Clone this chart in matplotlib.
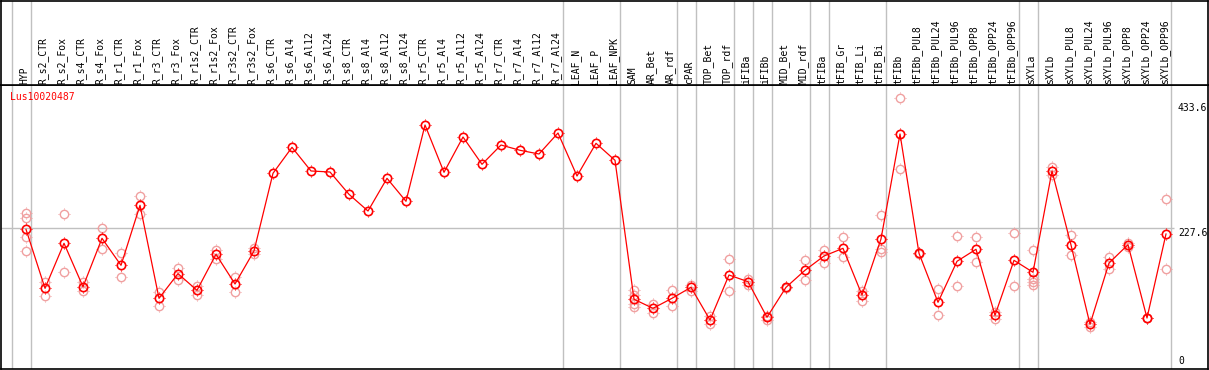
import numpy as np
import matplotlib.pyplot as plt
from matplotlib.path import Path

labels = ["HYP", "R_s2_CTR", "R_s2_Fox", "R_s4_CTR", "R_s4_Fox", "R_r1_CTR", "R_r1_Fox",
          "R_r3_CTR", "R_r3_Fox", "R_r1s2_CTR", "R_r1s2_Fox", "R_r3s2_CTR", "R_r3s2_Fox",
          "R_s6_CTR", "R_s6_Al4", "R_s6_Al12", "R_s6_Al24", "R_s8_CTR", "R_s8_Al4",
          "R_s8_Al12", "R_s8_Al24", "R_r5_CTR", "R_r5_Al4", "R_r5_Al12", "R_r5_Al24",
          "R_r7_CTR", "R_r7_Al4", "R_r7_Al12", "R_r7_Al24", "LEAF_N", "LEAF_P", "LEAF_NPK",
          "SAM", "AR_Bet", "AR_rdf", "cPAR", "TOP_Bet", "TOP_rdf", "iFIBa", "iFIBb",
          "MID_Bet", "MID_rdf", "tFIBa", "tFIB_Gr", "tFIB_Li", "tFIB_Bi", "tFIBb",
          "tFIBb_PUL8", "tFIBb_PUL24", "tFIBb_PUL96", "tFIBb_OPP8", "tFIBb_OPP24",
          "tFIBb_OPP96", "sXYLa", "sXYLb", "sXYLb_PUL8", "sXYLb_PUL24", "sXYLb_PUL96",
          "sXYLb_OPP8", "sXYLb_OPP24", "sXYLb_OPP96"]

means = [225.3, 128.1, 202.3, 130.7, 210.5, 166.0, 264.9, 111.6, 152.2, 124.8, 184.1, 135.2, 189.6,
         317.7, 360.5, 321.5, 319.8, 283.0, 255.5, 309.4, 271.5, 397.3, 319.3, 377.5, 332.5,
         364.3, 355.6, 349.5, 384.1, 313.2, 367.1, 339.1,
         110.0, 95.1, 111.6, 129.7, 75.8, 150.0, 139.0, 80.3, 129.7, 157.8, 181.3, 194.0,
         117.0, 209.4, 382.5, 185.8, 105.0, 172.6, 192.4, 83.6, 174.2, 154.5, 321.5, 199.5,
         68.7, 169.8, 200.0, 79.1, 217.6]

reps = [[251.7, 243.5, 213.2, 189.6], [139.0, 115.9], [250.1, 154.5], [139.0, 124.1],
        [227.0, 192.4], [185.8, 146.2], [280.2, 250.1], [121.5, 99.4], [161.1, 141.8],
        [131.9, 117.0], [191.2, 176.4], [146.2, 122.5], [195.0, 184.6],
        [], [], [], [], [], [], [], [], [], [], [], [], [], [], [], [], [], [], [],
        [125.3, 117.0, 102.2, 97.8], [102.2, 87.9], [124.8, 98.4], [133.5, 124.1],
        [82.4, 68.7], [175.9, 123.6], [142.9, 133.5], [82.4, 75.8], [130.5, 129.0],
        [174.2, 141.3], [191.2, 170.3], [212.2, 179.2], [123.6, 107.6],
        [248.9, 192.4, 187.9], [441.3, 324.3], [186.5, 185.0], [126.4, 83.6],
        [214.3, 131.4], [212.2, 171.9], [89.5, 77.5], [218.8, 131.4],
        [190.7, 142.9, 139.0, 133.5], [328.5, 314.9], [216.0, 183.0], [73.0, 64.8],
        [180.2, 159.4], [202.3, 195.7], [79.5, 78.7], [275.3, 159.4]]

group_ends = [0, 28, 31, 34, 35, 37, 38, 39, 41, 42, 45, 52, 53, 60]
tick_vals = [433.6, 227.6, 0]
tick_text = ["433.6", "227.6", "0"]
gene = "Lus10020487"

W, H = 1209, 370
px_per_col = 19.0
x0 = 26.0
px_per_unit = 0.6066
y_zero = 366.0

def xi(px):
    return (px - x0) / px_per_col

def yv(py):
    return (y_zero - py) / px_per_unit

mono = "DejaVu Sans Mono"
red = "#ff0000"
pink = "#f0a0a0"
grey = "#c0c0c0"

# four short ticks around the circle
M, L = Path.MOVETO, Path.LINETO
tick_mark = Path([[0, 1], [0, 1.3], [0, -1], [0, -1.3], [1, 0], [1.3, 0], [-1, 0], [-1.3, 0]],
                 [M, L, M, L, M, L, M, L])
ms = 6

def circles(ax, x, y, col, mew, **kw):
    ax.plot(x, y, marker="o", ms=ms, mfc="none", mec=col, mew=mew, **kw)
    ax.plot(x, y, linestyle="none", marker=tick_mark, ms=ms * 1.3 + mew, mfc="none",
            mec=col, mew=0.7, zorder=kw.get("zorder", 2))

fig = plt.figure(figsize=(W / 100, H / 100), dpi=100)

ax = fig.add_axes([1 / W, 1 / H, 1207 / W, 284 / H])
ax.set_xlim(xi(1), xi(1208))
ax.set_ylim(yv(369), yv(85))
ax.set_xticks([])
ax.set_yticks([])
for s in ax.spines.values():
    s.set_color("black")
    s.set_linewidth(1.2)

hx = fig.add_axes([1 / W, 285 / H, 1207 / W, 84.5 / H])
hx.set_xlim(xi(1), xi(1208))
hx.set_ylim(85, 0)
hx.set_xticks([])
hx.set_yticks([])
for s in hx.spines.values():
    s.set_color("black")
    s.set_linewidth(1.2)

seps = [-0.76] + [g + 0.24 for g in group_ends]
for s in seps:
    ax.axvline(s, color=grey, lw=1, zorder=0)
    hx.axvline(s, color=grey, lw=1, zorder=0)
ax.hlines(227.6, xi(1), xi(1174), color=grey, lw=1, zorder=0)

idx = np.arange(len(labels))
for i, lab in enumerate(labels):
    hx.text(i - 0.1, 83.5, lab, rotation=90, ha="center", va="bottom",
            fontsize=7, family=mono, color="black")

for i, r in enumerate(reps):
    if r:
        circles(ax, [i] * len(r), r, pink, 1.0, linestyle="none", zorder=2)

ax.plot(idx, means, color=red, lw=0.9, zorder=3)
circles(ax, idx, means, red, 1.2, linestyle="none", zorder=4)

ax.text(xi(10), yv(97), gene, color=red, fontsize=7, family=mono, ha="left", va="center")

for v, t in zip(tick_vals, tick_text):
    ax.text(xi(1178), v, t, fontsize=7, family=mono, ha="left",
            va="bottom" if v == 0 else "top", color="black")

fig.savefig("out.png", dpi=100)
